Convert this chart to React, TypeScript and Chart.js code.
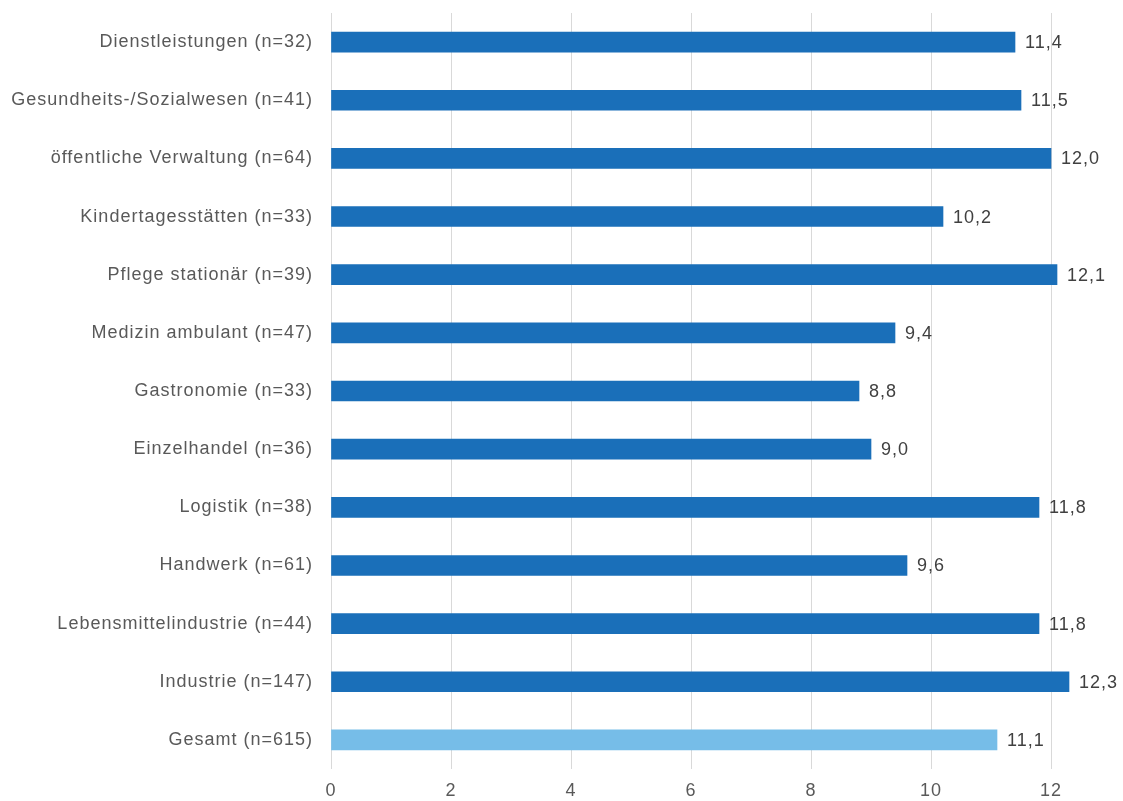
import React, { useEffect, useRef } from "react";
import { Chart, registerables } from "chart.js";

Chart.register(...registerables);

const categories = [
  "Dienstleistungen (n=32)",
  "Gesundheits-/Sozialwesen (n=41)",
  "öffentliche Verwaltung (n=64)",
  "Kindertagesstätten (n=33)",
  "Pflege stationär (n=39)",
  "Medizin ambulant (n=47)",
  "Gastronomie (n=33)",
  "Einzelhandel (n=36)",
  "Logistik (n=38)",
  "Handwerk (n=61)",
  "Lebensmittelindustrie (n=44)",
  "Industrie (n=147)",
  "Gesamt (n=615)",
];
const values = [11.4, 11.5, 12.0, 10.2, 12.1, 9.4, 8.8, 9.0, 11.8, 9.6, 11.8, 12.3, 11.1];
const xTicks = [0, 2, 4, 6, 8, 10, 12];

const DARK = "#1A6FB9";
const LIGHT = "#76BDE8";
const FONT = "'Liberation Sans', Arial, sans-serif";

const spacingPlugin = {
  id: "spacing",
  beforeUpdate(chart: any) {
    chart.ctx.letterSpacing = "1px";
  },
  beforeLayout(chart: any) {
    chart.ctx.letterSpacing = "1px";
  },
  beforeDraw(chart: any) {
    chart.ctx.letterSpacing = "1px";
  },
};

const labelPlugin = {
  id: "valueLabels",
  afterDatasetsDraw(chart: any) {
    const ctx = chart.ctx;
    const meta = chart.getDatasetMeta(0);
    ctx.save();
    ctx.letterSpacing = "1px";
    ctx.font = `18px ${FONT}`;
    ctx.fillStyle = "#404040";
    ctx.textAlign = "left";
    ctx.textBaseline = "middle";
    meta.data.forEach((bar: any, i: number) => {
      const txt = values[i].toFixed(1).replace(".", ",");
      ctx.fillText(txt, bar.x + 10, bar.y + 1);
    });
    ctx.restore();
  },
};

export default function App() {
  const ref = useRef<HTMLCanvasElement | null>(null);
  useEffect(() => {
    if (!ref.current) return;
    const chart = new Chart(ref.current, {
      type: "bar",
      data: {
        labels: categories,
        datasets: [
          {
            data: values,
            backgroundColor: values.map((_, i) => (i === values.length - 1 ? LIGHT : DARK)),
            barThickness: 20,
            borderWidth: 0,
          },
        ],
      },
      options: {
        indexAxis: "y",
        animation: false,
        responsive: true,
        maintainAspectRatio: false,
        layout: { padding: { top: 13, right: 12, left: 0, bottom: 0 } },
        plugins: { legend: { display: false }, tooltip: { enabled: false } },
        scales: {
          x: {
            min: 0,
            max: 13,
            afterBuildTicks(scale: any) {
              scale.ticks = xTicks.map((v) => ({ value: v }));
            },
            afterFit(scale: any) {
              scale.height = 32;
              scale.paddingLeft = 0;
              scale.paddingRight = 0;
            },
            grid: { color: "#D9D9D9", lineWidth: 1, drawTicks: false },
            border: { display: false },
            ticks: {
              color: "#595959",
              font: { family: FONT, size: 18 },
              padding: 11,
            },
          },
          y: {
            afterFit(scale: any) {
              scale.width = 331;
              scale.paddingTop = 0;
              scale.paddingBottom = 0;
            },
            grid: { display: false, drawTicks: false },
            border: { display: false },
            ticks: {
              color: "#595959",
              font: { family: FONT, size: 18 },
              padding: 18,
              autoSkip: false,
            },
          },
        },
      },
      plugins: [spacingPlugin, labelPlugin],
    } as any);
    return () => chart.destroy();
  }, []);
  return (
    <div style={{ position: "fixed", left: 0, top: 0, width: 1123, height: 801, background: "#fff" }}>
      <canvas ref={ref} />
    </div>
  );
}
